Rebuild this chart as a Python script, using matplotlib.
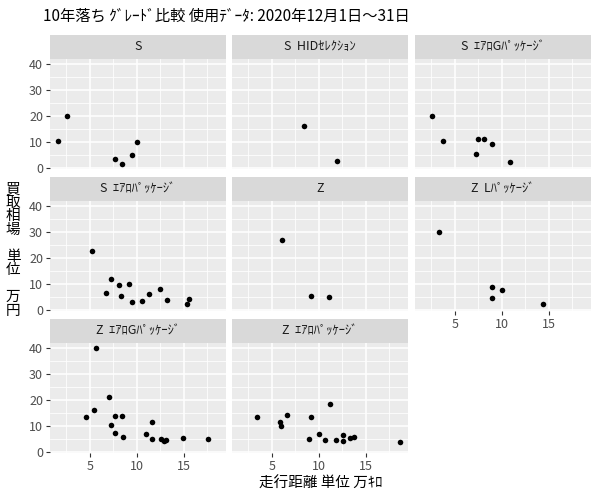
import matplotlib
matplotlib.use("Agg")
import matplotlib.pyplot as plt
import numpy as np

plt.rcParams['font.family'] = ['Noto Sans CJK JP', 'DejaVu Sans']

panels = ["S", "S  HIDｾﾚｸｼｮﾝ", "S  ｴｱﾛGﾊﾟｯｹｰｼﾞ",
          "S  ｴｱﾛﾊﾟｯｹｰｼﾞ", "Z", "Z  Lﾊﾟｯｹｰｼﾞ",
          "Z  ｴｱﾛGﾊﾟｯｹｰｼﾞ", "Z  ｴｱﾛﾊﾟｯｹｰｼﾞ"]

x_S = [1.6, 2.6, 7.7, 8.4, 9.5, 10.0]
y_S = [10.6, 20.1, 3.5, 1.7, 5.2, 10.2]
x_SHID = [8.4, 11.9]
y_SHID = [16.4, 2.7]
x_SAG = [2.6, 3.7, 7.5, 8.1, 7.3, 8.9, 10.9]
y_SAG = [20.2, 10.5, 11.3, 11.3, 5.5, 9.4, 2.4]
x_SA = [5.25, 6.75, 7.3, 8.05, 8.35, 9.2, 9.45, 10.6, 11.35, 12.45, 13.2, 15.3, 15.55]
y_SA = [22.8, 6.5, 12.0, 9.6, 5.7, 10.1, 3.4, 3.8, 6.2, 8.1, 3.9, 2.6, 4.3]
x_Z = [6.1, 9.2, 11.05]
y_Z = [27.0, 5.4, 5.0]
x_ZL = [3.3, 9.0, 10.0, 8.9, 14.35]
y_ZL = [30.1, 8.9, 8.0, 4.9, 2.3]
x_ZAG = [5.65, 7.0, 5.4, 4.6, 7.7, 8.4, 7.2, 7.65, 8.5, 11.0, 11.65, 11.65, 12.6, 12.85, 13.15, 14.95, 17.6]
y_ZAG = [40.0, 21.2, 16.3, 13.5, 13.9, 13.9, 10.5, 7.4, 5.9, 7.0, 11.6, 5.1, 5.1, 4.3, 4.7, 5.5, 5.1]
x_ZA = [3.4, 5.85, 6.0, 6.6, 9.15, 11.15, 8.95, 10.0, 10.7, 11.85, 12.6, 12.6, 13.35, 13.75, 18.65]
y_ZA = [13.7, 11.6, 10.1, 14.4, 13.7, 18.5, 5.1, 7.2, 4.9, 4.9, 6.7, 4.4, 5.6, 6.0, 4.0]

xs = [x_S, x_SHID, x_SAG, x_SA, x_Z, x_ZL, x_ZAG, x_ZA]
ys = [y_S, y_SHID, y_SAG, y_SA, y_Z, y_ZL, y_ZAG, y_ZA]

x_ticks = [5, 10, 15]
y_ticks = [0, 10, 20, 30, 40]

title = "10年落ち ｸﾞﾚｰﾄﾞ比較 使用ﾃﾞｰﾀ: 2020年12月1日～31日"
xlabel = "走行距離 単位 万ｷﾛ"
ylabel = "買\n取\n相\n場\n \n単\n位\n \n万\n円"

allx = np.concatenate([np.array(v, float) for v in xs])
ally = np.concatenate([np.array(v, float) for v in ys])
xr = allx.max() - allx.min()
yr = ally.max() - ally.min()
xlim = (allx.min() - 0.05 * xr, allx.max() + 0.05 * xr)
ylim = (ally.min() - 0.05 * yr, ally.max() + 0.05 * yr)

W, H = 600, 500
fig = plt.figure(figsize=(6, 5), dpi=100)

col_left = [50, 232, 415]
col_w = 176
strip_top = [35, 177, 319]
strip_h = 24
panel_h = 110

for i, name in enumerate(panels):
    r, c = divmod(i, 3)
    left = col_left[c]
    ptop = strip_top[r] + strip_h
    ax = fig.add_axes([left / W, 1 - (ptop + panel_h) / H, col_w / W, panel_h / H])
    ax.set_facecolor('#EBEBEB')
    for s in ax.spines.values():
        s.set_visible(False)
    ax.set_xlim(xlim)
    ax.set_ylim(ylim)
    ax.set_xticks(x_ticks)
    ax.set_yticks(y_ticks)
    ax.set_xticks([2.5, 7.5, 12.5, 17.5], minor=True)
    ax.set_yticks([5, 15, 25, 35], minor=True)
    ax.grid(True, which='major', color='white', linewidth=1.1)
    ax.grid(True, which='minor', color='white', linewidth=0.55)
    ax.set_axisbelow(True)
    ax.tick_params(which='minor', length=0)
    show_x = (r == 2) or (r == 1 and c == 2)
    show_y = (c == 0)
    ax.tick_params(axis='x', which='major', length=3 if show_x else 0, color='#333333',
                   labelbottom=show_x, labelsize=9, labelcolor='#4D4D4D', pad=2)
    ax.tick_params(axis='y', which='major', length=3 if show_y else 0, color='#333333',
                   labelleft=show_y, labelsize=9, labelcolor='#4D4D4D', pad=2)
    ax.scatter(xs[i], ys[i], s=16, color='black', zorder=3, linewidths=0)
    # strip
    sax = fig.add_axes([left / W, 1 - (strip_top[r] + strip_h) / H, col_w / W, strip_h / H])
    sax.set_facecolor('#D9D9D9')
    sax.set_xticks([]); sax.set_yticks([])
    for s in sax.spines.values():
        s.set_visible(False)
    sax.text(0.5, 0.5, name, ha='center', va='center', fontsize=9, color='#1A1A1A',
             transform=sax.transAxes)

fig.text(43 / W, 1 - 16 / H, title, ha='left', va='center', fontsize=11, color='black')
fig.text(321 / W, 1 - 484 / H, xlabel, ha='center', va='center', fontsize=10.5, color='black')
fig.text(13 / W, 1 - 250 / H, ylabel, ha='center', va='center', fontsize=10.5,
         color='black', linespacing=0.95)

fig.savefig('out.png', dpi=100)
